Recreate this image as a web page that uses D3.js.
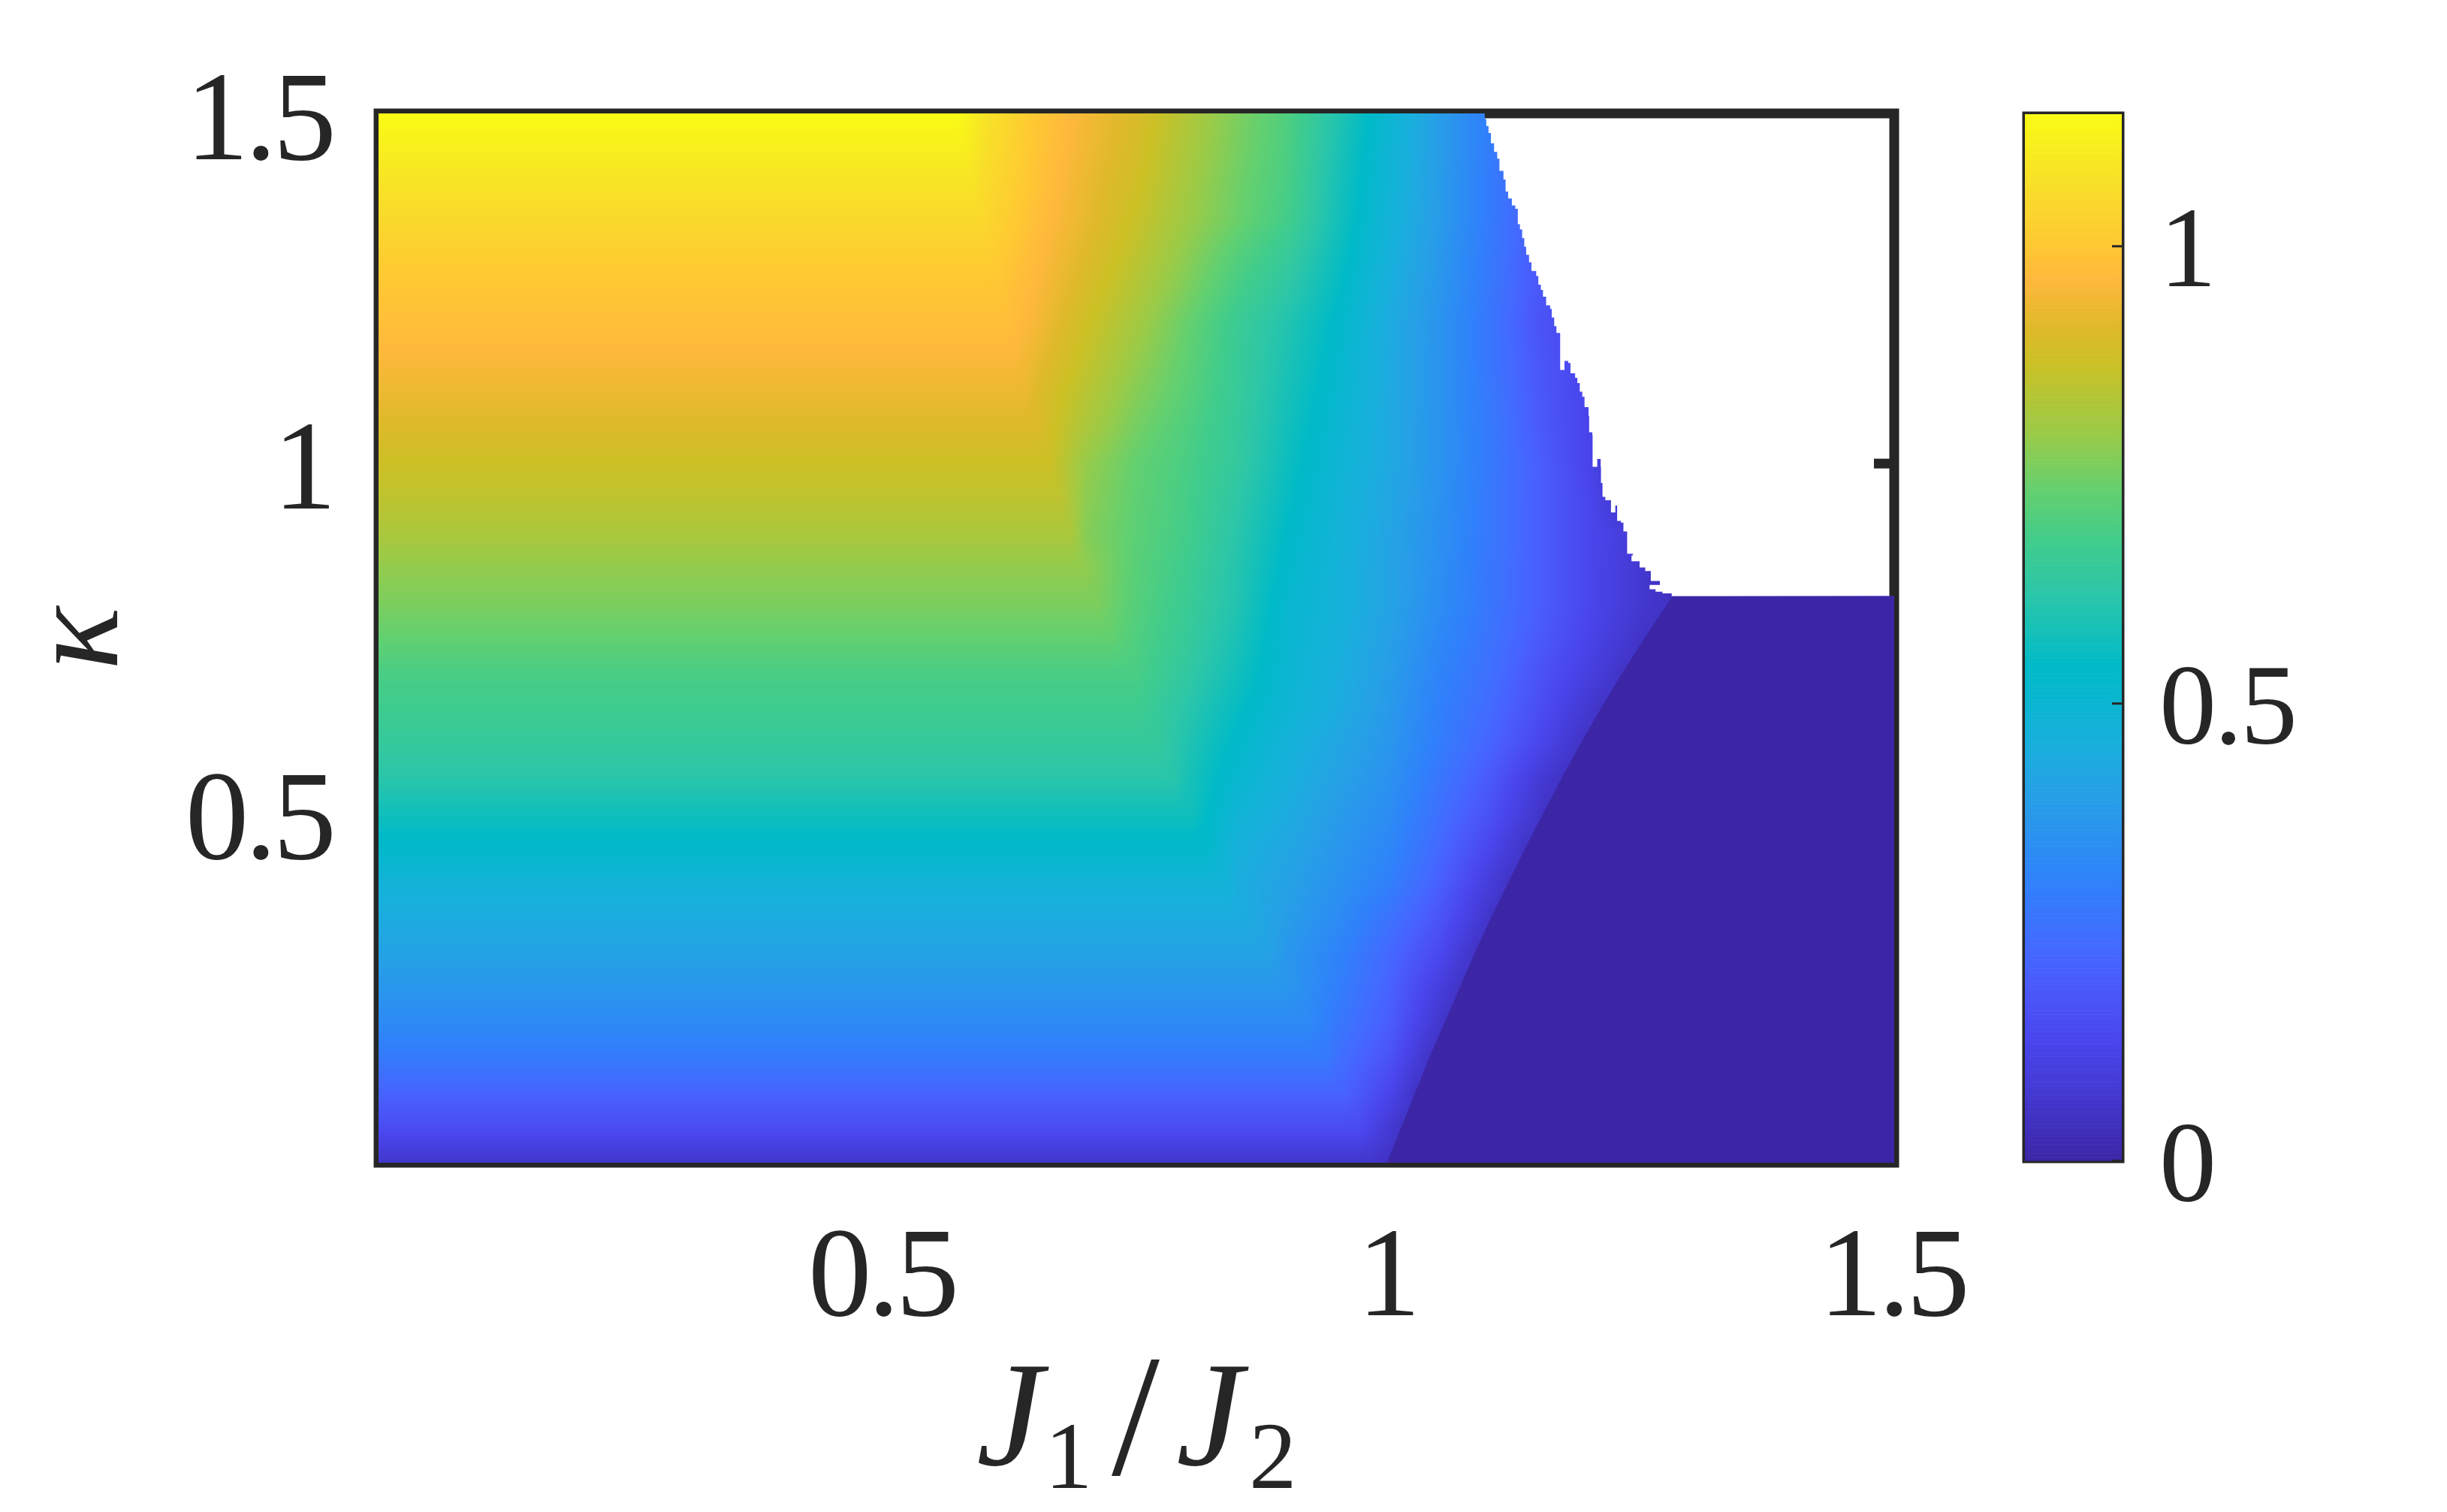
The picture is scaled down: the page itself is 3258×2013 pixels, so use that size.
<!DOCTYPE html>
<html>
<head>
<meta charset="utf-8">
<title>kappa phase map</title>
<script src="https://cdn.jsdelivr.net/npm/d3@7"></script>
<style>
  html, body { margin: 0; padding: 0; background: #fff; }
  svg { display: block; }
  text { font-family: "Liberation Serif", serif; fill: #262626; }
</style>
</head>
<body>
<div id="chart"></div>
<script>
//grid of the map
const j_nodes = [0.6, 0.65, 0.7, 0.75, 0.8, 0.85, 0.9, 0.95, 1, 1.05, 1.1, 1.15, 1.2, 1.25];
const kappa_nodes = [1.5, 1.45, 1.4, 1.35, 1.3, 1.25, 1.2, 1.15, 1.1, 1.05, 1, 0.95, 0.9, 0.85, 0.8, 0.75, 0.7, 0.65, 0.6, 0.55, 0.5, 0.45, 0.4, 0.35, 0.3, 0.25, 0.2, 0.15, 0.1, 0.05, 0];

//left of the crease the value only depends on kappa, one per kappa row
const left_values = [1.144, 1.11, 1.08, 1.05, 1.02, 0.995, 0.98, 0.955, 0.93, 0.905, 0.872, 0.85, 0.82, 0.785, 0.76, 0.73, 0.69, 0.67, 0.645, 0.615, 0.57, 0.525, 0.475, 0.44, 0.41, 0.37, 0.33, 0.28, 0.215, 0.15, 0.06];
//where the crease sits on each kappa row
const crease_j = [0.572, 0.58, 0.588, 0.596, 0.604, 0.612, 0.62, 0.63, 0.641, 0.652, 0.665, 0.675, 0.686, 0.698, 0.712, 0.725, 0.736, 0.752, 0.77, 0.786, 0.805, 0.822, 0.84, 0.86, 0.88, 0.9, 0.92, 0.94, 0.955, 0.97, 0.98];

//values at j_nodes per kappa row (only the ones right of the crease get used)
const right_values = [
  [1.08, 1, 0.945, 0.9, 0.83, 0.76, 0.7, 0.6, 0.5, 0.39, 0.29, 0.2, 0.15],
  [1.07, 0.995, 0.94, 0.89, 0.82, 0.755, 0.695, 0.59, 0.49, 0.39, 0.29, 0.2, 0.15],
  [1.055, 0.99, 0.93, 0.88, 0.81, 0.745, 0.69, 0.58, 0.485, 0.385, 0.285, 0.195, 0.15],
  [1.04, 0.98, 0.925, 0.865, 0.8, 0.74, 0.68, 0.575, 0.475, 0.385, 0.285, 0.19, 0.14],
  [1.02, 0.97, 0.91, 0.85, 0.78, 0.71, 0.65, 0.56, 0.465, 0.375, 0.28, 0.185, 0.14],
  [0.995, 0.96, 0.895, 0.83, 0.76, 0.685, 0.625, 0.545, 0.45, 0.37, 0.275, 0.18, 0.13],
  [0.98, 0.95, 0.875, 0.81, 0.735, 0.66, 0.6, 0.53, 0.44, 0.36, 0.27, 0.17, 0.12],
  [0.955, 0.93, 0.86, 0.79, 0.725, 0.655, 0.59, 0.52, 0.435, 0.36, 0.27, 0.18, 0.12],
  [0.93, 0.91, 0.84, 0.77, 0.715, 0.65, 0.58, 0.51, 0.435, 0.36, 0.275, 0.185, 0.12],
  [0.905, 0.905, 0.82, 0.75, 0.7, 0.645, 0.57, 0.5, 0.43, 0.36, 0.28, 0.19, 0.12],
  [0.872, 0.872, 0.79, 0.73, 0.69, 0.64, 0.56, 0.49, 0.43, 0.36, 0.28, 0.2, 0.12],
  [0.85, 0.85, 0.78, 0.725, 0.685, 0.625, 0.55, 0.48, 0.42, 0.355, 0.275, 0.2, 0.13],
  [0.82, 0.82, 0.77, 0.72, 0.68, 0.615, 0.535, 0.475, 0.415, 0.35, 0.275, 0.2, 0.13, 0.08],
  [0.785, 0.785, 0.765, 0.715, 0.67, 0.605, 0.525, 0.47, 0.41, 0.345, 0.27, 0.2, 0.13, 0.07],
  [0.76, 0.76, 0.76, 0.71, 0.66, 0.6, 0.51, 0.47, 0.41, 0.34, 0.27, 0.2, 0.13, 0.07],
  [0.73, 0.73, 0.73, 0.7, 0.65, 0.585, 0.505, 0.46, 0.4, 0.325, 0.26, 0.19, 0.12, 0.03],
  [0.69, 0.69, 0.69, 0.69, 0.635, 0.57, 0.5, 0.45, 0.39, 0.31, 0.25, 0.17, 0.1],
  [0.67, 0.67, 0.67, 0.66, 0.615, 0.55, 0.49, 0.44, 0.38, 0.3, 0.235, 0.155, 0.08],
  [0.645, 0.645, 0.645, 0.645, 0.6, 0.53, 0.47, 0.42, 0.37, 0.29, 0.22, 0.13, 0.03],
  [0.615, 0.615, 0.615, 0.615, 0.585, 0.51, 0.455, 0.405, 0.355, 0.27, 0.19, 0.08],
  [0.57, 0.57, 0.57, 0.57, 0.565, 0.485, 0.44, 0.385, 0.34, 0.25, 0.165, 0.03],
  [0.525, 0.525, 0.525, 0.525, 0.525, 0.46, 0.42, 0.37, 0.32, 0.23, 0.13],
  [0.475, 0.475, 0.475, 0.475, 0.475, 0.445, 0.405, 0.355, 0.3, 0.205, 0.08],
  [0.44, 0.44, 0.44, 0.44, 0.44, 0.43, 0.39, 0.335, 0.26, 0.175, 0.03],
  [0.41, 0.41, 0.41, 0.41, 0.41, 0.41, 0.37, 0.31, 0.23, 0.14],
  [0.37, 0.37, 0.37, 0.37, 0.37, 0.37, 0.35, 0.295, 0.215, 0.1],
  [0.33, 0.33, 0.33, 0.33, 0.33, 0.33, 0.325, 0.275, 0.2, 0.05],
  [0.28, 0.28, 0.28, 0.28, 0.28, 0.28, 0.28, 0.25, 0.17],
  [0.215, 0.215, 0.215, 0.215, 0.215, 0.215, 0.215, 0.21, 0.13],
  [0.15, 0.15, 0.15, 0.15, 0.15, 0.15, 0.15, 0.15, 0.08],
  [0.06, 0.06, 0.06, 0.06, 0.06, 0.06, 0.06, 0.06, 0.03]
];

//edge of the dark zero phase
const dark_edge_kappa = [0, 0.05, 0.1, 0.15, 0.2, 0.25, 0.3, 0.35, 0.4, 0.45, 0.5, 0.55, 0.6, 0.65, 0.7, 0.75, 0.8, 0.81];
const dark_edge_j = [0.998, 1.012, 1.026, 1.04, 1.055, 1.07, 1.085, 1.101, 1.118, 1.135, 1.153, 1.171, 1.19, 1.21, 1.231, 1.253, 1.276, 1.281];
const edge_value = 0.05;

//jagged edge of the empty (white) corner, top to bottom
const white_edge_j = [1.0917, 1.0948, 1.0963, 1.0985, 1.1009, 1.104, 1.1071, 1.1093, 1.1133, 1.1154, 1.1179, 1.1216, 1.125, 1.1275, 1.1296, 1.1318, 1.1339, 1.1358, 1.1386, 1.141, 1.1457, 1.1478, 1.1503, 1.1524, 1.1555, 1.1595, 1.1611, 1.1635, 1.1657, 1.1694, 1.1694, 1.1734, 1.1737, 1.1774, 1.1796, 1.1842, 1.1864, 1.1888, 1.1913, 1.1935, 1.1975, 1.1981, 1.2012, 1.2015, 1.2058, 1.2061, 1.208, 1.2095, 1.2098, 1.2113, 1.2141, 1.2197, 1.2197, 1.2237, 1.224, 1.2258, 1.2258, 1.2295, 1.232, 1.2357, 1.2357, 1.2413, 1.24, 1.248, 1.248, 1.2536, 1.2591, 1.2591, 1.2681, 1.2681, 1.2579, 1.2579, 1.2638, 1.2706, 1.2783, 1.2798];
const white_edge_kappa = [1.5003, 1.4919, 1.482, 1.4722, 1.4574, 1.445, 1.4352, 1.4179, 1.4056, 1.3883, 1.3785, 1.3686, 1.3637, 1.3415, 1.3341, 1.3217, 1.3094, 1.298, 1.2872, 1.2749, 1.2675, 1.2552, 1.2478, 1.2379, 1.2256, 1.2206, 1.2083, 1.196, 1.1861, 1.1827, 1.1334, 1.1334, 1.1462, 1.1432, 1.1284, 1.122, 1.1146, 1.1023, 1.0949, 1.0801, 1.0678, 1.0441, 1.0407, 0.9948, 0.9948, 1.0061, 1.0061, 0.9948, 0.9716, 0.9519, 0.9469, 0.942, 0.9297, 0.9297, 0.9396, 0.9396, 0.9174, 0.915, 0.9026, 0.9001, 0.8705, 0.8681, 0.8597, 0.8597, 0.8508, 0.8459, 0.8419, 0.8316, 0.8316, 0.8261, 0.8261, 0.8197, 0.8163, 0.8138, 0.8138, 0.8099];

//colormap as seen on the colorbar
const color_values = [0, 0.07, 0.134, 0.196, 0.228, 0.3, 0.4, 0.456, 0.538, 0.62, 0.676, 0.73, 0.794, 0.872, 0.911, 0.962, 1, 1.07, 1.144];
const color_hexes = ["#3c26a6", "#4338d0", "#4a46ee", "#4a5cfb", "#4468ff", "#3080fb", "#26a0e6", "#18b0dc", "#00bac8", "#2cc6a8", "#40cc8c", "#62d070", "#9acb48", "#ccc025", "#dfb92a", "#ffb83c", "#ffc833", "#f8e028", "#f9fb15"];

const x_ticks = [0.5, 1, 1.5];
const y_ticks = [0.5, 1, 1.5];
const bar_ticks = [0, 0.5, 1];
const dark_kappa_top = 0.81;

let width_svg = 3258;
let height_svg = 2013;
let ink = "#262626";
let tick_font = "'Liberation Serif', serif";

let svg = d3.select("#chart").append("svg")
            .attr("width", width_svg)
            .attr("height", height_svg);

//scales
let x_scale = d3.scaleLinear().domain([0, 1.5]).range([504, 2522]);
let y_scale = d3.scaleLinear().domain([0, 1.5]).range([1548, 151]);
let bar_scale = d3.scaleLinear().domain([0, 1.144]).range([1545, 152]);
let color_scale = d3.scaleLinear().domain(color_values).range(color_hexes).clamp(true);

//==========================================================
//frame and ticks go under the map, only the white corner shows them in full
svg.append("rect")
   .attr("x", x_scale(0))
   .attr("y", y_scale(1.5))
   .attr("width", x_scale(1.5) - x_scale(0))
   .attr("height", y_scale(0) - y_scale(1.5))
   .attr("fill", "none")
   .attr("stroke", ink)
   .attr("stroke-width", 13);

let right_axis = svg.append("g")
   .attr("transform", `translate(${x_scale(1.5)},0)`)
   .call(d3.axisRight(y_scale).tickValues([0.5, 1]).tickSize(-27).tickFormat(""));
right_axis.select(".domain").remove();
right_axis.selectAll("line").attr("stroke", ink).attr("stroke-width", 13);

//==========================================================
//the map: same idea as shading interp, each row is a polyline through the
//read values and rows get blended, colour only looked up at the end
function row_profile(r) {
    let js = [crease_j[r]];
    let vs = [left_values[r]];
    let d = dark_edge_kappa.indexOf(kappa_nodes[r]);
    let stop = d >= 0 ? dark_edge_j[d] : Infinity;
    j_nodes.forEach((j, c) => {
        if (j > crease_j[r] + 0.005 && j < stop - 0.02) {
            js.push(j);
            vs.push(right_values[r][c] || 0);
        }
    });
    if (d >= 0) {
        js.push(stop);
        vs.push(edge_value);
    } else {
        js.push(1.3);
        vs.push(0);
    }
    return d3.scaleLinear().domain(js).range(vs).clamp(true);
}
let profiles = kappa_nodes.map((k, r) => row_profile(r));

let map_w = Math.round(x_scale(1.5) - x_scale(0));
let map_h = Math.round(y_scale(0) - y_scale(1.5));
let canvas = document.createElement("canvas");
canvas.width = map_w;
canvas.height = map_h;
let ctx = canvas.getContext("2d");
let pixels = ctx.createImageData(map_w, map_h);

let lut_size = 2400;
let lut = d3.range(lut_size).map(i => d3.rgb(color_scale(i / lut_size * 1.2)));
let kappa_step = kappa_nodes[0] - kappa_nodes[1];

for (let px = 0; px < map_w; px++) {
    let j = x_scale.invert(x_scale(0) + px + 0.5);
    let column = profiles.map(p => p(j));
    for (let py = 0; py < map_h; py++) {
        let kappa = y_scale.invert(y_scale(1.5) + py + 0.5);
        let pos = (1.5 - kappa) / kappa_step;
        let r = Math.min(Math.floor(pos), kappa_nodes.length - 2);
        let t = pos - r;
        let value = column[r] * (1 - t) + column[r + 1] * t;
        let c = lut[Math.max(0, Math.min(lut_size - 1, Math.round(value / 1.2 * lut_size)))];
        let i = (py * map_w + px) * 4;
        pixels.data[i] = c.r;
        pixels.data[i + 1] = c.g;
        pixels.data[i + 2] = c.b;
        pixels.data[i + 3] = 255;
    }
}
ctx.putImageData(pixels, 0, 0);

let white_edge = white_edge_j.map((j, i) => [x_scale(j), y_scale(white_edge_kappa[i])]);
let map_outline = [[x_scale(0), y_scale(0)], [x_scale(0), y_scale(1.5)], [x_scale(white_edge_j[0]), y_scale(1.5)]];
let clip_path = d3.line().curve(d3.curveStepAfter)(white_edge);
let clip_head = "M" + map_outline.map(p => p.join(",")).join("L") + "L" + clip_path.slice(1);
let clip_tail = `L${x_scale(1.5)},${y_scale(dark_kappa_top)}L${x_scale(1.5)},${y_scale(0)}Z`;

svg.append("clipPath").attr("id", "map-clip")
   .append("path").attr("d", clip_head + clip_tail);

let map_group = svg.append("g").attr("clip-path", "url(#map-clip)");
map_group.append("image")
   .attr("href", canvas.toDataURL())
   .attr("x", x_scale(0))
   .attr("y", y_scale(1.5))
   .attr("width", map_w)
   .attr("height", map_h)
   .attr("preserveAspectRatio", "none");

//dark phase polygon
let dark_area = d3.line().curve(d3.curveCatmullRom)(dark_edge_j.map((j, i) => [x_scale(j), y_scale(dark_edge_kappa[i])]));
map_group.append("path")
   .attr("d", dark_area + `L${x_scale(1.5)},${y_scale(dark_kappa_top)}L${x_scale(1.5)},${y_scale(0)}Z`)
   .attr("fill", color_scale(0));

//==========================================================
//axes labels
let bottom_axis = svg.append("g")
   .attr("transform", `translate(-3,${y_scale(0)})`)
   .call(d3.axisBottom(x_scale).tickValues(x_ticks).tickSize(0).tickFormat(d3.format("")));
bottom_axis.select(".domain").remove();
bottom_axis.selectAll("text")
   .attr("y", 203).attr("dy", 0)
   .attr("font-size", 169)
   .attr("letter-spacing", -5)
   .style("font-family", tick_font)
   .attr("fill", ink);

let left_axis = svg.append("g")
   .attr("transform", `translate(${x_scale(0)},0)`)
   .call(d3.axisLeft(y_scale).tickValues(y_ticks).tickSize(0).tickFormat(d3.format("")));
left_axis.select(".domain").remove();
left_axis.selectAll("text")
   .attr("x", -61).attr("dy", 60)
   .attr("font-size", 169)
   .attr("letter-spacing", -5)
   .style("font-family", tick_font)
   .attr("fill", ink);

svg.append("text")
   .attr("transform", "translate(156,850) rotate(-90)")
   .attr("font-size", 176)
   .attr("font-style", "italic")
   .attr("text-anchor", "middle")
   .text("κ");

//J1/J2 pieces
let x_title = svg.append("g");
x_title.append("text").attr("x", 1300).attr("y", 1950).attr("font-size", 200).attr("font-style", "italic").text("J");
x_title.append("text").attr("x", 1391).attr("y", 1981).attr("font-size", 127).text("1");
x_title.append("text").attr("x", 1480).attr("y", 1963).attr("font-size", 230).text("/");
x_title.append("text").attr("x", 1566).attr("y", 1950).attr("font-size", 200).attr("font-style", "italic").text("J");
x_title.append("text").attr("x", 1663).attr("y", 1981).attr("font-size", 127).text("2");

//==========================================================
//colorbar
svg.append("rect")
   .attr("x", 2696)
   .attr("y", bar_scale(1.144))
   .attr("width", 129)
   .attr("height", bar_scale(0) - bar_scale(1.144))
   .attr("fill", "none")
   .attr("stroke", ink)
   .attr("stroke-width", 7);

let bar_levels = d3.range(0, 1.144, 0.002);
svg.append("g").selectAll("rect")
   .data(bar_levels)
   .enter()
   .append("rect")
   .attr("x", 2696)
   .attr("width", 129)
   .attr("y", d => bar_scale(d + 0.002))
   .attr("height", d => bar_scale(d) - bar_scale(d + 0.002) + 0.6)
   .attr("fill", d => color_scale(d));

let bar_axis = svg.append("g")
   .attr("transform", "translate(2825,0)")
   .call(d3.axisRight(bar_scale).tickValues(bar_ticks).tickSize(-13).tickFormat(d3.format("")));
bar_axis.select(".domain").remove();
bar_axis.selectAll("line").attr("stroke", ink).attr("stroke-width", 3);
bar_axis.selectAll("text")
   .attr("x", 50).attr("dy", 53).attr("text-anchor", "start")
   .attr("font-size", 152)
   .attr("letter-spacing", -3)
   .style("font-family", tick_font)
   .attr("fill", ink);
</script>
</body>
</html>
